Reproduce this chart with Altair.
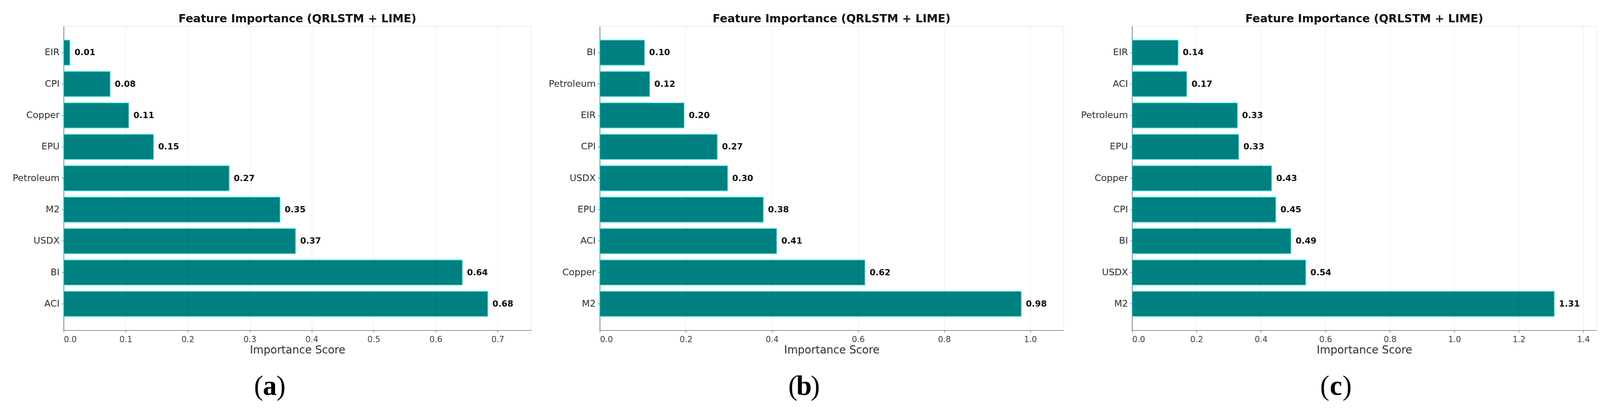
import altair as alt
import pandas as pd

TITLE = "Feature Importance (QRLSTM + LIME)"
X_TITLE = "Importance Score"
SUB_LETTERS = ["a", "b", "c"]

# Panel (a)
a_features = ["EIR", "CPI", "Copper", "EPU", "Petroleum", "M2", "USDX", "BI", "ACI"]
a_values = [0.010, 0.075, 0.105, 0.145, 0.267, 0.349, 0.374, 0.643, 0.684]
a_labels = ["0.01", "0.08", "0.11", "0.15", "0.27", "0.35", "0.37", "0.64", "0.68"]
a_ticks = [0.0, 0.1, 0.2, 0.3, 0.4, 0.5, 0.6, 0.7]
a_xmax = 0.754

# Panel (b)
b_features = ["BI", "Petroleum", "EIR", "CPI", "USDX", "EPU", "ACI", "Copper", "M2"]
b_values = [0.104, 0.116, 0.196, 0.273, 0.297, 0.380, 0.411, 0.616, 0.979]
b_labels = ["0.10", "0.12", "0.20", "0.27", "0.30", "0.38", "0.41", "0.62", "0.98"]
b_ticks = [0.0, 0.2, 0.4, 0.6, 0.8, 1.0]
b_xmax = 1.077

# Panel (c)
c_features = ["EIR", "ACI", "Petroleum", "EPU", "Copper", "CPI", "BI", "USDX", "M2"]
c_values = [0.143, 0.170, 0.327, 0.331, 0.433, 0.446, 0.493, 0.539, 1.310]
c_labels = ["0.14", "0.17", "0.33", "0.33", "0.43", "0.45", "0.49", "0.54", "1.31"]
c_ticks = [0.0, 0.2, 0.4, 0.6, 0.8, 1.0, 1.2, 1.4]
c_xmax = 1.441

SANS = "DejaVu Sans"
SERIF = "Liberation Serif"
H = 788
EXT = 156


def panel(features, values, labels, ticks, xmax, letter, width, sub_x):
    df = pd.DataFrame({"feature": features, "value": values, "label": labels})
    y = alt.Y(
        "feature:N",
        sort=features,
        title=None,
        scale=alt.Scale(paddingInner=0.2, paddingOuter=0.44),
        axis=alt.Axis(
            labelFontSize=24, labelFont=SANS, labelColor="#333333",
            tickSize=5, tickColor="#666666", tickWidth=1.5, labelPadding=6,
            minExtent=EXT, maxExtent=EXT, labelLimit=400,
            domainColor="#888888", domainWidth=2, grid=False,
        ),
    )
    x = alt.X(
        "value:Q",
        title=X_TITLE,
        scale=alt.Scale(domain=[0, xmax], nice=False, zero=True),
        axis=alt.Axis(
            values=ticks, format=".1f",
            labelFontSize=21, labelFont=SANS, labelColor="#444444",
            tickSize=5, tickColor="#666666", tickWidth=1.5, labelPadding=8,
            titleFontSize=28, titleFont=SANS, titleColor="#333333",
            titleFontWeight="normal", titlePadding=4,
            domainColor="#888888", domainWidth=2,
            grid=True, gridColor="#000000", gridOpacity=0.07, gridWidth=1.5,
            zindex=1,
        ),
    )
    base = alt.Chart(df)
    bars = base.mark_bar(color="#008080", stroke="#45e3e3", strokeWidth=2).encode(
        x=x, y=y
    )
    text = base.mark_text(
        align="left", baseline="middle", dx=12, fontSize=22,
        fontWeight="bold", font=SANS, color="#111111",
    ).encode(x="value:Q", y=alt.Y("feature:N", sort=features), text="label:N")

    sub_df = pd.DataFrame({"letter": [letter]})
    sub_base = alt.Chart(sub_df)
    sub_letter = sub_base.mark_text(
        align="center", baseline="alphabetic", fontSize=72, font=SERIF,
        fontWeight="bold", color="#000000",
    ).encode(x=alt.value(sub_x), y=alt.value(956), text="letter:N")
    lpar = sub_base.mark_text(
        align="right", baseline="alphabetic", fontSize=72, font=SERIF,
        color="#000000", text="(",
    ).encode(x=alt.value(sub_x - 17), y=alt.value(956))
    rpar = sub_base.mark_text(
        align="left", baseline="alphabetic", fontSize=72, font=SERIF,
        color="#000000", text=")",
    ).encode(x=alt.value(sub_x + 17), y=alt.value(956))

    return alt.layer(bars, text, sub_letter, lpar, rpar).properties(
        width=width,
        height=H,
        title=alt.TitleParams(
            TITLE, fontSize=29, fontWeight="bold", font=SANS,
            color="#111111", anchor="middle", offset=4,
        ),
    )


pa = panel(a_features, a_values, a_labels, a_ticks, a_xmax, SUB_LETTERS[0], 1213, 535)
pb = panel(b_features, b_values, b_labels, b_ticks, b_xmax, SUB_LETTERS[1], 1203, 530)
pc = panel(c_features, c_values, c_labels, c_ticks, c_xmax, SUB_LETTERS[2], 1205, 529)

chart = (
    alt.hconcat(pa, pb, pc, spacing=20)
    .resolve_scale(x="independent", y="independent")
    .properties(padding={"left": 0, "top": 19, "right": 0, "bottom": 0})
    .configure_view(stroke="#a0a0a0", strokeWidth=2)
    .configure(background="white")
)

chart.save("out.html", embed_options={"renderer": "svg", "actions": False})
